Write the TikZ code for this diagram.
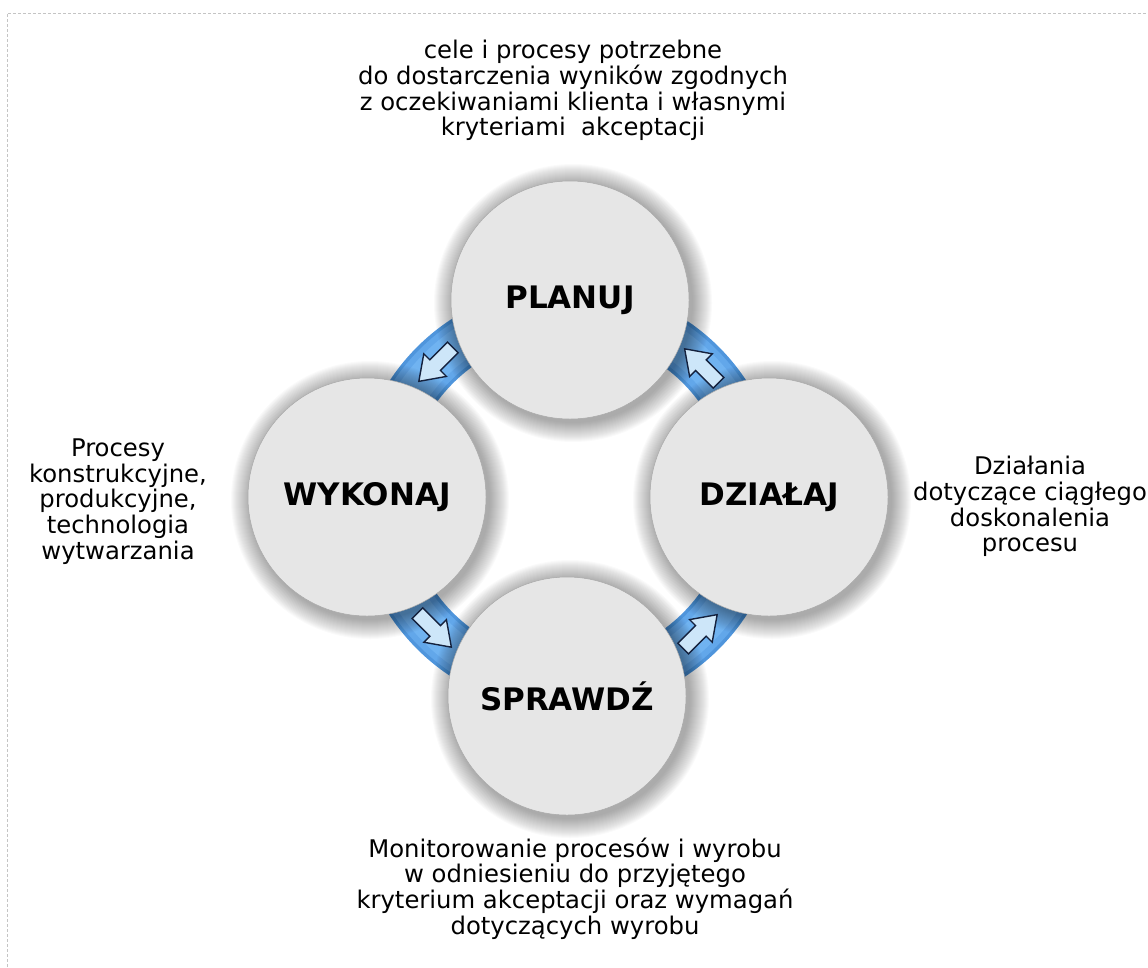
\documentclass[tikz,border=0pt]{standalone}
\usepackage{fontspec}
\setmainfont{DejaVu Sans}
\definecolor{circfill}{HTML}{E6E6E6}
\definecolor{circline}{HTML}{A8A8A8}
\definecolor{bandedge}{HTML}{4F95DC}
\definecolor{bandmid}{HTML}{62A7EA}
\definecolor{bandcore}{HTML}{70B3F1}
\definecolor{arrowfill}{HTML}{CDE6F9}
\definecolor{arrowline}{HTML}{14213D}
\definecolor{frameline}{HTML}{C4C4C4}
\tikzset{
 stage/.style={circle, minimum size=238pt, inner sep=0pt, fill=circfill, draw=circline, line width=0.5pt, font=\fontsize{31}{36}\selectfont\bfseries},
 note/.style={align=center, font=\fontsize{24.3}{25.7}\selectfont},
 flowarrow/.style={fill=arrowfill, draw=arrowline, line width=1.4pt, line join=miter},
 framedash/.style={draw=frameline, line width=1pt, dash pattern=on 3pt off 2pt},
}
\begin{document}
\begin{tikzpicture}[x=1pt,y=1pt]
\useasboundingbox (0,0) rectangle (1148,-967);
\draw[framedash] (7,-967) -- (7,-13) -- (1148,-13);
\coordinate (C) at (568,-498);
\coordinate (cP) at (570,-300);
\coordinate (cW) at (367,-497);
\coordinate (cD) at (769,-497);
\coordinate (cS) at (567,-696);
% blue bands of the ring
\foreach \a in {45,135,225,315} {
  \draw[bandedge, line width=51pt] ([shift={(\a-30:188)}]C) arc[start angle=\a-30, end angle=\a+30, radius=188];
  \draw[bandmid, line width=44pt] ([shift={(\a-30:188)}]C) arc[start angle=\a-30, end angle=\a+30, radius=188];
  \draw[bandcore, line width=32pt] ([shift={(\a-30:188)}]C) arc[start angle=\a-30, end angle=\a+30, radius=188];
}
% soft shadows of the circles
\foreach \c in {cP,cW,cD,cS} {
  \foreach \k in {1,...,20} {
    \fill[black, opacity=0.018] ([shift={(3,-3)}]\c) circle[radius={119+\k}];
  }
}
% arrows
\foreach \px/\py/\d in {435.1/-365.1/225, 700.9/-365.1/135, 435.1/-630.9/315, 700.9/-630.9/45} {
  \draw[flowarrow, shift={(\px,\py)}, rotate=\d] (-25,-7.5) -- (0,-7.5) -- (0,-16) -- (23,0) -- (0,16) -- (0,7.5) -- (-25,7.5) -- cycle;
}
% circles
\node[stage] (P) at (cP) {PLANUJ};
\node[stage] (W) at (cW) {WYKONAJ};
\node[stage] (D) at (cD) {DZIAŁAJ};
\node[stage] (S) at (cS) {SPRAWDŹ};
% notes
\node[note] (tP) at (573,-90.5) {cele i procesy potrzebne\\do dostarczenia wyników zgodnych\\z oczekiwaniami klienta i własnymi\\kryteriami\ \ akceptacji};
\node[note] (tW) at (118,-501.5) {Procesy\\konstrukcyjne,\\produkcyjne,\\technologia\\wytwarzania};
\node[note] (tD) at (1030,-506.5) {Działania\\dotyczące ciągłego\\doskonalenia\\procesu};
\node[note] (tS) at (575,-888.5) {Monitorowanie procesów i wyrobu\\w odniesieniu do przyjętego\\kryterium akceptacji oraz wymagań\\dotyczących wyrobu};
\end{tikzpicture}
\end{document}
